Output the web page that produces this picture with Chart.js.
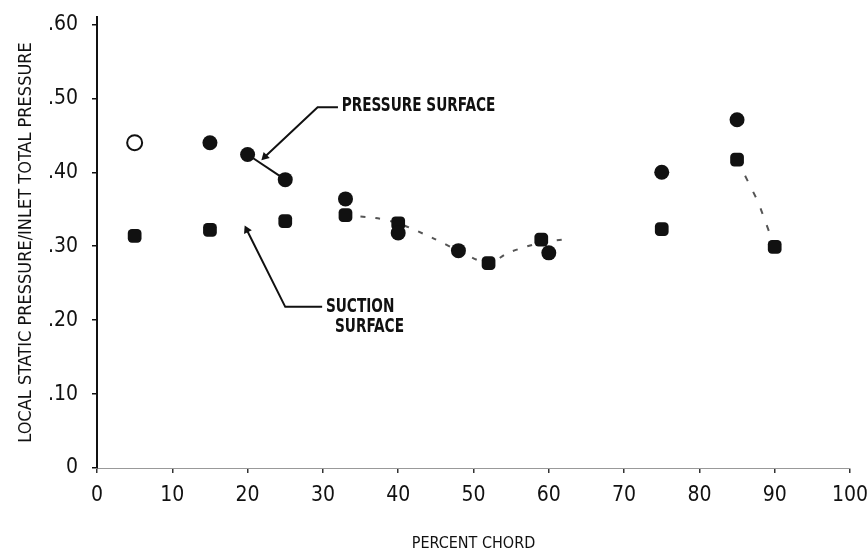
<!DOCTYPE html>
<html>
<head>
<meta charset="utf-8">
<title>Local static pressure vs percent chord</title>
<script src="https://cdn.jsdelivr.net/npm/chart.js@4/dist/chart.umd.min.js"></script>
<style>
  html, body { margin: 0; padding: 0; background: #fff; }
  #wrap { width: 867px; height: 554px; }
</style>
</head>
<body>
<div id="wrap"><canvas id="pressureChart" width="867" height="554"></canvas></div>
<script>
// values
const pressureChord = [5, 15, 20, 25, 33, 40, 48, 60, 75, 85];
const pressureRatio = [0.44, 0.44, 0.424, 0.39, 0.364, 0.318, 0.294, 0.291, 0.40, 0.471];

const suctionChord = [5, 15, 25, 33, 40, 52, 59, 75, 85, 90];
const suctionRatio = [0.314, 0.322, 0.334, 0.342, 0.331, 0.277, 0.309, 0.323, 0.417, 0.299];

// faired curve pieces drawn on the original
const fairChord1 = [20, 25];
const fairRatio1 = [0.424, 0.39];
const fairChord2 = [33, 37, 40, 44.6, 48, 52, 54.6, 59, 62];
const fairRatio2 = [0.342, 0.338, 0.331, 0.311, 0.294, 0.277, 0.291, 0.305, 0.309];
const fairChord3 = [85, 87.8, 90];
const fairRatio3 = [0.417, 0.36, 0.299];

// leader lines for the two callouts
const pressureLeaderChord = [22.3, 29.3, 32];
const pressureLeaderRatio = [0.421, 0.488, 0.488];
const suctionLeaderChord = [19.9, 25, 29.9];
const suctionLeaderRatio = [0.322, 0.218, 0.218];

const xTickValues = [0, 10, 20, 30, 40, 50, 60, 70, 80, 90, 100];
const xTickLabels = ['0', '10', '20', '30', '40', '50', '60', '70', '80', '90', '100'];
const yTickValues = [0, 0.1, 0.2, 0.3, 0.4, 0.5, 0.6];
const yTickLabels = ['0', '.10', '.20', '.30', '.40', '.50', '.60'];

const calloutTexts = ['PRESSURE SURFACE', 'SUCTION', 'SURFACE'];
const calloutChord = [32.5, 30.4, 31.6];
const calloutRatio = [0.49, 0.218, 0.191];

const FONT = "'Liberation Sans Narrow', 'DejaVu Sans Condensed', 'Roboto Condensed', 'Liberation Sans', sans-serif";
const INK = '#111';

function pts(xs, ys) {
    return xs.map((x, i) => ({ x: x, y: ys[i] }));
}

// callout labels, squeezed horizontally like the typewriter lettering
const calloutPlugin = {
    id: 'callouts',
    afterDatasetsDraw(chart) {
        const ctx = chart.ctx;
        const xs = chart.scales.x, ys = chart.scales.y;
        const squeeze = 0.8;
        ctx.save();
        ctx.fillStyle = INK;
        ctx.font = 'bold 19px ' + FONT;
        ctx.textAlign = 'left';
        ctx.textBaseline = 'middle';
        calloutTexts.forEach((t, i) => {
            const px = xs.getPixelForValue(calloutChord[i]);
            const py = ys.getPixelForValue(calloutRatio[i]);
            ctx.save();
            ctx.translate(px, py);
            ctx.scale(squeeze, 1);
            ctx.fillText(t, 0, 0);
            ctx.restore();
        });
        ctx.restore();
    }
};

document.addEventListener('DOMContentLoaded', () => {
    const ctx = document.getElementById('pressureChart').getContext('2d');
    new Chart(ctx, {
        type: 'scatter',
        data: {
            datasets: [
                {
                    label: 'Pressure surface',
                    data: pts(pressureChord, pressureRatio),
                    pointStyle: 'circle',
                    pointRadius: 7.5,
                    backgroundColor: pressureChord.map((c, i) => i === 0 ? '#fff' : INK),
                    borderColor: INK,
                    borderWidth: pressureChord.map((c, i) => i === 0 ? 2 : 0),
                    showLine: false
                },
                {
                    label: 'Suction surface',
                    data: pts(suctionChord, suctionRatio),
                    pointStyle: 'rectRounded',
                    pointRadius: 8,
                    backgroundColor: INK,
                    borderWidth: 0,
                    showLine: false
                },
                {
                    data: pts(fairChord1, fairRatio1),
                    showLine: true,
                    borderColor: INK,
                    borderWidth: 2,
                    pointRadius: 0
                },
                {
                    data: pts(fairChord2, fairRatio2),
                    showLine: true,
                    borderColor: '#555',
                    borderWidth: 2,
                    borderDash: [5, 10],
                    tension: 0.3,
                    pointRadius: 0
                },
                {
                    data: pts(fairChord3, fairRatio3),
                    showLine: true,
                    borderColor: '#555',
                    borderWidth: 2,
                    borderDash: [6, 12],
                    pointRadius: 0
                },
                {
                    data: pts(pressureLeaderChord, pressureLeaderRatio),
                    showLine: true,
                    borderColor: INK,
                    borderWidth: 2,
                    pointStyle: 'triangle',
                    pointRadius: [5, 0, 0],
                    pointRotation: 225,
                    backgroundColor: INK,
                    pointBorderWidth: 0
                },
                {
                    data: pts(suctionLeaderChord, suctionLeaderRatio),
                    showLine: true,
                    borderColor: INK,
                    borderWidth: 2,
                    pointStyle: 'triangle',
                    pointRadius: [5, 0, 0],
                    pointRotation: 334,
                    backgroundColor: INK,
                    pointBorderWidth: 0
                }
            ]
        },
        options: {
            responsive: false,
            animation: false,
            layout: {
                padding: { top: 17, right: 17, left: 0, bottom: 0 }
            },
            plugins: {
                legend: { display: false },
                tooltip: { enabled: false }
            },
            scales: {
                x: {
                    type: 'linear',
                    min: 0,
                    max: 100,
                    afterFit: s => { s.height = 86; s.paddingRight = 0; s.paddingLeft = 0; },
                    afterBuildTicks: s => { s.ticks = xTickValues.map(v => ({ value: v })); },
                    grid: {
                        drawOnChartArea: false,
                        drawTicks: true,
                        tickLength: 5,
                        color: '#333',
                        lineWidth: 1.5
                    },
                    border: { color: '#999', width: 1, dash: [2, 5] },
                    ticks: {
                        color: INK,
                        padding: 10,
                        maxRotation: 0,
                        font: { family: FONT, size: 21 },
                        callback: (v, i) => xTickLabels[i]
                    },
                    title: {
                        display: true,
                        text: 'PERCENT CHORD',
                        color: INK,
                        font: { family: FONT, size: 16 },
                        padding: { top: 0, bottom: 1 }
                    }
                },
                y: {
                    type: 'linear',
                    min: 0,
                    max: 0.61,
                    afterFit: s => { s.width = 97; s.paddingTop = 0; },
                    afterBuildTicks: s => { s.ticks = yTickValues.map(v => ({ value: v })); },
                    grid: {
                        drawOnChartArea: false,
                        drawTicks: true,
                        tickLength: 5,
                        color: INK,
                        lineWidth: 1.5
                    },
                    border: { color: INK, width: 2 },
                    ticks: {
                        color: INK,
                        padding: 14,
                        font: { family: FONT, size: 21 },
                        callback: (v, i) => yTickLabels[i]
                    },
                    title: {
                        display: true,
                        text: 'LOCAL STATIC PRESSURE/INLET TOTAL PRESSURE',
                        color: INK,
                        font: { family: FONT, size: 18 },
                        padding: { top: 16, bottom: 0 }
                    }
                }
            }
        },
        plugins: [calloutPlugin]
    });
});
</script>
</body>
</html>
